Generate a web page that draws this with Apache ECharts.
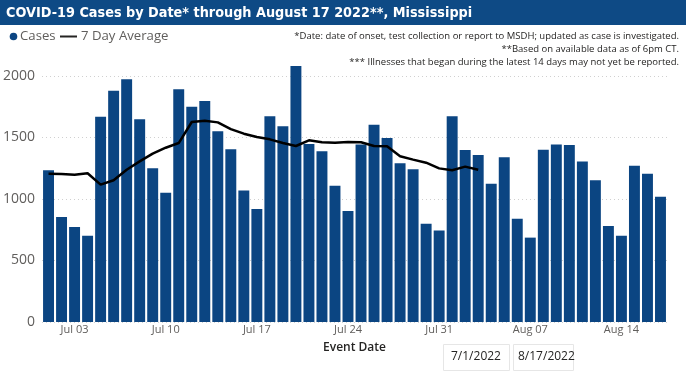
<!DOCTYPE html>
<html><head><meta charset="utf-8">
<script src="https://cdn.jsdelivr.net/npm/echarts@6/dist/echarts.min.js"></script>
<style>html,body{margin:0;padding:0;background:#fff}#c{width:686px;height:371px}</style>
</head><body><div id="c"></div>
<script>
const dates = ["Jul 01","Jul 02","Jul 03","Jul 04","Jul 05","Jul 06","Jul 07","Jul 08","Jul 09","Jul 10","Jul 11","Jul 12","Jul 13","Jul 14","Jul 15","Jul 16","Jul 17","Jul 18","Jul 19","Jul 20","Jul 21","Jul 22","Jul 23","Jul 24","Jul 25","Jul 26","Jul 27","Jul 28","Jul 29","Jul 30","Jul 31","Aug 01","Aug 02","Aug 03","Aug 04","Aug 05","Aug 06","Aug 07","Aug 08","Aug 09","Aug 10","Aug 11","Aug 12","Aug 13","Aug 14","Aug 15","Aug 16","Aug 17"];
const cases = [1233,854,772,702,1669,1881,1973,1648,1249,1051,1892,1751,1797,1550,1404,1070,919,1672,1591,2081,1447,1388,1108,902,1444,1604,1496,1290,1241,799,743,1672,1398,1358,1125,1339,840,686,1401,1444,1439,1304,1152,780,702,1271,1206,1019];
const avg7 = [1206,1203,1198,1209,1117,1152,1238,1306,1369,1417,1455,1626,1637,1623,1568,1531,1504,1485,1455,1431,1477,1461,1458,1463,1461,1431,1428,1347,1320,1295,1249,1234,1263,1238,null,null,null,null,null,null,null,null,null,null,null,null,null,null];
const yTicks = [0,500,1000,1500,2000];
const shownDates = ["Jul 03","Jul 10","Jul 17","Jul 24","Jul 31","Aug 07","Aug 14"];
const seriesNames = ["Cases","7 Day Average"];
const titleText = "COVID-19 Cases by Date* through August 17 2022**, Mississippi";
const notes = ["*Date: date of onset, test collection or report to MSDH; updated as case is investigated.","**Based on available data as of 6pm CT.","*** Illnesses that began during the latest 14 days may not yet be reported."];
const rangeStart = "7/1/2022", rangeEnd = "8/17/2022";

const chart = echarts.init(document.getElementById('c'), null, {renderer:'canvas'});
const F = "'Open Sans', 'Noto Sans', sans-serif";
const BAR = '#0b4582';
function txt(x, y, s, font, fill, align){
  return {type:'text', z:11, style:{x:x, y:y, text:s, font:font, fill:fill, align:align||'left', verticalAlign:'middle'}};
}
chart.setOption({
  animation:false,
  backgroundColor:'#fff',
  grid:{left:42,right:19,top:76,bottom:49,containLabel:false},
  xAxis:{
    type:'category', data:dates, boundaryGap:true,
    axisLine:{show:false}, axisTick:{show:false},
    axisLabel:{interval:(i,v)=>shownDates.indexOf(v)>=0, color:'#605e5c', fontFamily:F, fontSize:11, margin:2},
    name:'Event Date', nameLocation:'middle', nameGap:20,
    nameTextStyle:{fontFamily:F,fontSize:12,fontWeight:600,color:'#252423'}
  },
  yAxis:{
    type:'value', min:0, max:2000, interval:500,
    axisLine:{show:false}, axisTick:{show:false},
    axisLabel:{color:'#605e5c', fontFamily:F, fontSize:14, margin:7, formatter:v=>yTicks.indexOf(v)>=0?String(v):''},
    splitLine:{lineStyle:{color:'#d0d0d0',type:[1,3],width:1}}
  },
  series:[
    {name:seriesNames[0],type:'bar',data:cases,clip:false,barCategoryGap:'16%',
     itemStyle:{color:BAR}},
    {name:seriesNames[1],type:'line',data:avg7,showSymbol:false,symbol:'none',clip:false,
     lineStyle:{color:'#000',width:2.5},itemStyle:{color:'#000'},connectNulls:false}
  ],
  graphic:[
    {type:'rect',left:0,top:0,shape:{width:686,height:25},style:{fill:'#0e4a85'},z:10},
    txt(6, 13, titleText, "condensed bold 14.3px 'DejaVu Sans', sans-serif", '#fff'),
    {type:'circle',shape:{cx:13.5,cy:36.5,r:3.8},style:{fill:BAR}},
    txt(20, 36.5, seriesNames[0], "13.2px "+F, '#605e5c'),
    {type:'rect',shape:{x:60,y:35.5,width:17,height:2},style:{fill:'#252423'}},
    txt(81, 36.5, seriesNames[1], "13.2px "+F, '#605e5c'),
    txt(679, 36, notes[0], "9.5px "+F, '#252423', 'right'),
    txt(679, 49, notes[1], "9.5px "+F, '#252423', 'right'),
    txt(679, 62, notes[2], "9.5px "+F, '#252423', 'right'),
    {type:'rect',left:443,top:344,shape:{width:66,height:26},style:{fill:'#fff',stroke:'#e6e6e6',lineWidth:1}},
    txt(451, 357, rangeStart, "12px "+F, '#252423'),
    {type:'rect',left:513,top:344,shape:{width:60,height:26},style:{fill:'#fff',stroke:'#e6e6e6',lineWidth:1}},
    txt(518, 357, rangeEnd, "12px "+F, '#252423')
  ]
});
</script></body></html>
